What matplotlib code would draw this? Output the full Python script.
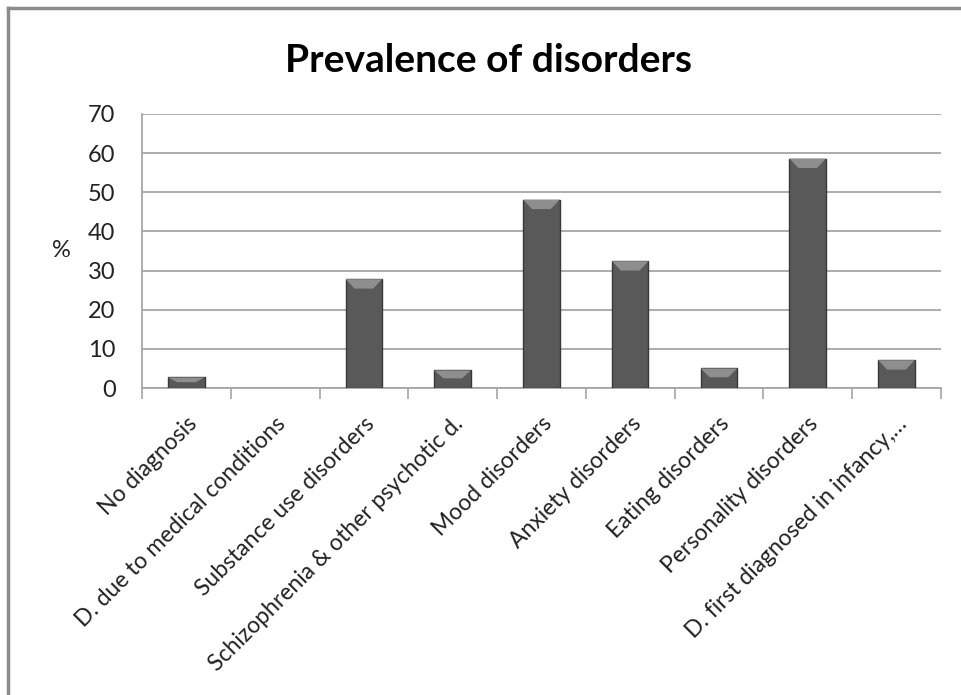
import numpy as np
import matplotlib.pyplot as plt
from matplotlib.lines import Line2D

# prevalence (%) per diagnostic group
categories = ['No diagnosis', 'D. due to medical conditions', 'Substance use disorders',
              'Schizophrenia & other psychotic d.', 'Mood disorders', 'Anxiety disorders',
              'Eating disorders', 'Personality disorders', 'D. first diagnosed in infancy,…']
prevalence = [2.7, 0.0, 27.8, 4.5, 48.1, 32.4, 5.0, 58.6, 7.1]
yticks = [0, 10, 20, 30, 40, 50, 60, 70]

plt.rcParams['font.family'] = ['Lato', 'DejaVu Sans']

fig = plt.figure(figsize=(9.62, 6.95), dpi=100)
ax = fig.add_axes([0.1476, 0.4417, 0.8304, 0.3943])

x = np.arange(len(categories))
width = 0.41
lws = [1.0 if v > 0 else 0 for v in prevalence]
ax.bar(x, prevalence, width=width, color='#595959', edgecolor='#383838', linewidth=lws, zorder=3)

# light bevel on the top of each bar
bevel = 2.4
for xi, v in zip(x, prevalence):
    if v <= 0:
        continue
    h = min(bevel, v * 0.45)
    ax.fill([xi - width / 2, xi + width / 2, xi + width / 2 - 0.1, xi - width / 2 + 0.1],
            [v, v, v - h, v - h], color='#8e8e8e', lw=0, zorder=4)

ax.set_ylim(0, 70)
ax.set_xlim(-0.5, len(categories) - 0.5)
ax.set_yticks(yticks)
ax.tick_params(axis='y', length=0, labelsize=17, pad=19, colors='#222222')
ax.yaxis.grid(True, color='#a6a6a6', linewidth=1.3, zorder=0)

# category ticks sit on the boundaries between bars
ax.set_xticks(np.arange(len(categories) + 1) - 0.5)
ax.set_xticklabels([])
ax.tick_params(axis='x', length=8, width=1.2, color='#a6a6a6', direction='out')
ax.set_xticks(x, minor=True)
ax.set_xticklabels(categories, minor=True, rotation=45, ha='right', rotation_mode='anchor',
                   fontsize=16.5, color='#222222')
ax.tick_params(axis='x', which='minor', length=0, pad=18)

for side in ['top', 'right']:
    ax.spines[side].set_visible(False)
for side in ['left', 'bottom']:
    ax.spines[side].set_color('#a6a6a6')
    ax.spines[side].set_linewidth(1.3)

ax.set_ylabel('%', rotation=0, fontsize=17, labelpad=19, va='center', color='#222222')

fig.text(0.508, 0.913, 'Prevalence of disorders', ha='center', va='center',
         fontsize=28, fontweight='bold', color='black')

# outer chart frame (top and left edges)
fig.add_artist(Line2D([8 / 962, 1.0], [1 - 8 / 695, 1 - 8 / 695], color='#8c8c8c', lw=2.5))
fig.add_artist(Line2D([8 / 962, 8 / 962], [0.0, 1 - 8 / 695], color='#8c8c8c', lw=2.5))

fig.savefig('out.png', dpi=100)
